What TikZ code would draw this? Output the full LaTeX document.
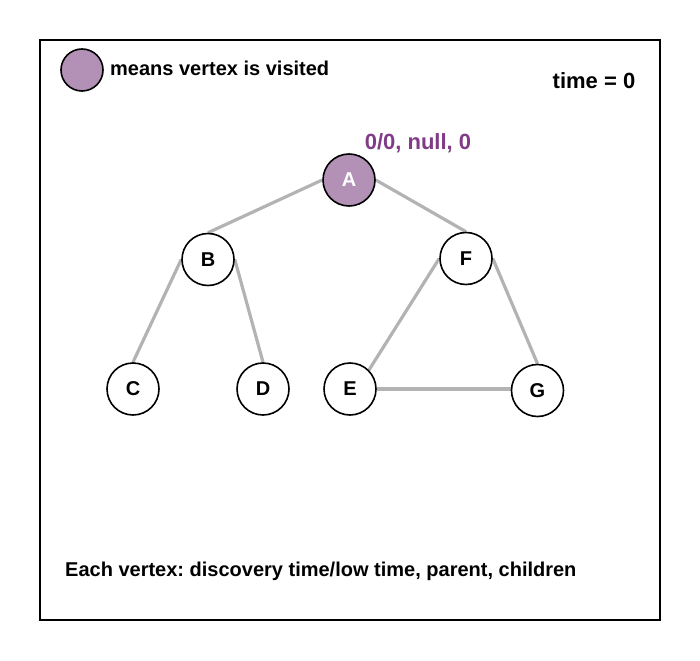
\documentclass[tikz,border=0pt]{standalone}
\usepackage{fontspec}
\setmainfont{Liberation Sans}
\usetikzlibrary{backgrounds}
\frenchspacing
\definecolor{visfill}{RGB}{179,144,182}
\definecolor{vislabel}{RGB}{128,60,135}
\definecolor{edgegray}{RGB}{179,179,179}
\begin{document}
\begin{tikzpicture}[x=1pt,y=-1pt,
  vtx/.style={circle,draw=black,line width=1.6pt,fill=white,minimum size=52pt,inner sep=0pt,font=\fontsize{20}{24}\selectfont\bfseries},
  visited/.style={vtx,fill=visfill,text=white},
  edge/.style={draw=edgegray,line width=3.2pt},
  lbl/.style={inner sep=0pt,font=\fontsize{20}{24}\selectfont\bfseries}]
\useasboundingbox (0,0) rectangle (700,660);
\draw[line width=2pt] (40,40) rectangle (660,620);
% legend
\node[visited,minimum size=42pt] (leg) at (82,70) {};
\node[lbl,anchor=west] (legtxt) at (110,68) {means vertex is visited};
\node[lbl,font=\fontsize{22}{26}\selectfont\bfseries] (time) at (594,81) {time = 0};
% vertices
\node[visited] (A) at (349,180) {A};
\node[vtx] (B) at (208,259.5) {B};
\node[vtx] (F) at (466,258.5) {F};
\node[vtx] (C) at (133,389) {C};
\node[vtx] (D) at (263,389) {D};
\node[vtx] (E) at (350,389) {E};
\node[vtx] (G) at (537.5,390.5) {G};
\begin{scope}[on background layer]
\draw[edge] (A.west) -- (B.north);
\draw[edge] (A.east) -- (F.north);
\draw[edge] (B.west) -- (C.north);
\draw[edge] (B.east) -- (D.north);
\draw[edge] (F.west) -- (E.north east);
\draw[edge] (F.east) -- (G.north);
\draw[edge] (E.east) -- (E.east -| G.west);
\end{scope}
\node[lbl,text=vislabel,font=\fontsize{22}{26}\selectfont\bfseries] (Alab) at (418,143) {0/0, null, 0};
\node[lbl,anchor=west] (note) at (65,571) {Each vertex: discovery time/low time, parent, children};
\end{tikzpicture}
\end{document}
